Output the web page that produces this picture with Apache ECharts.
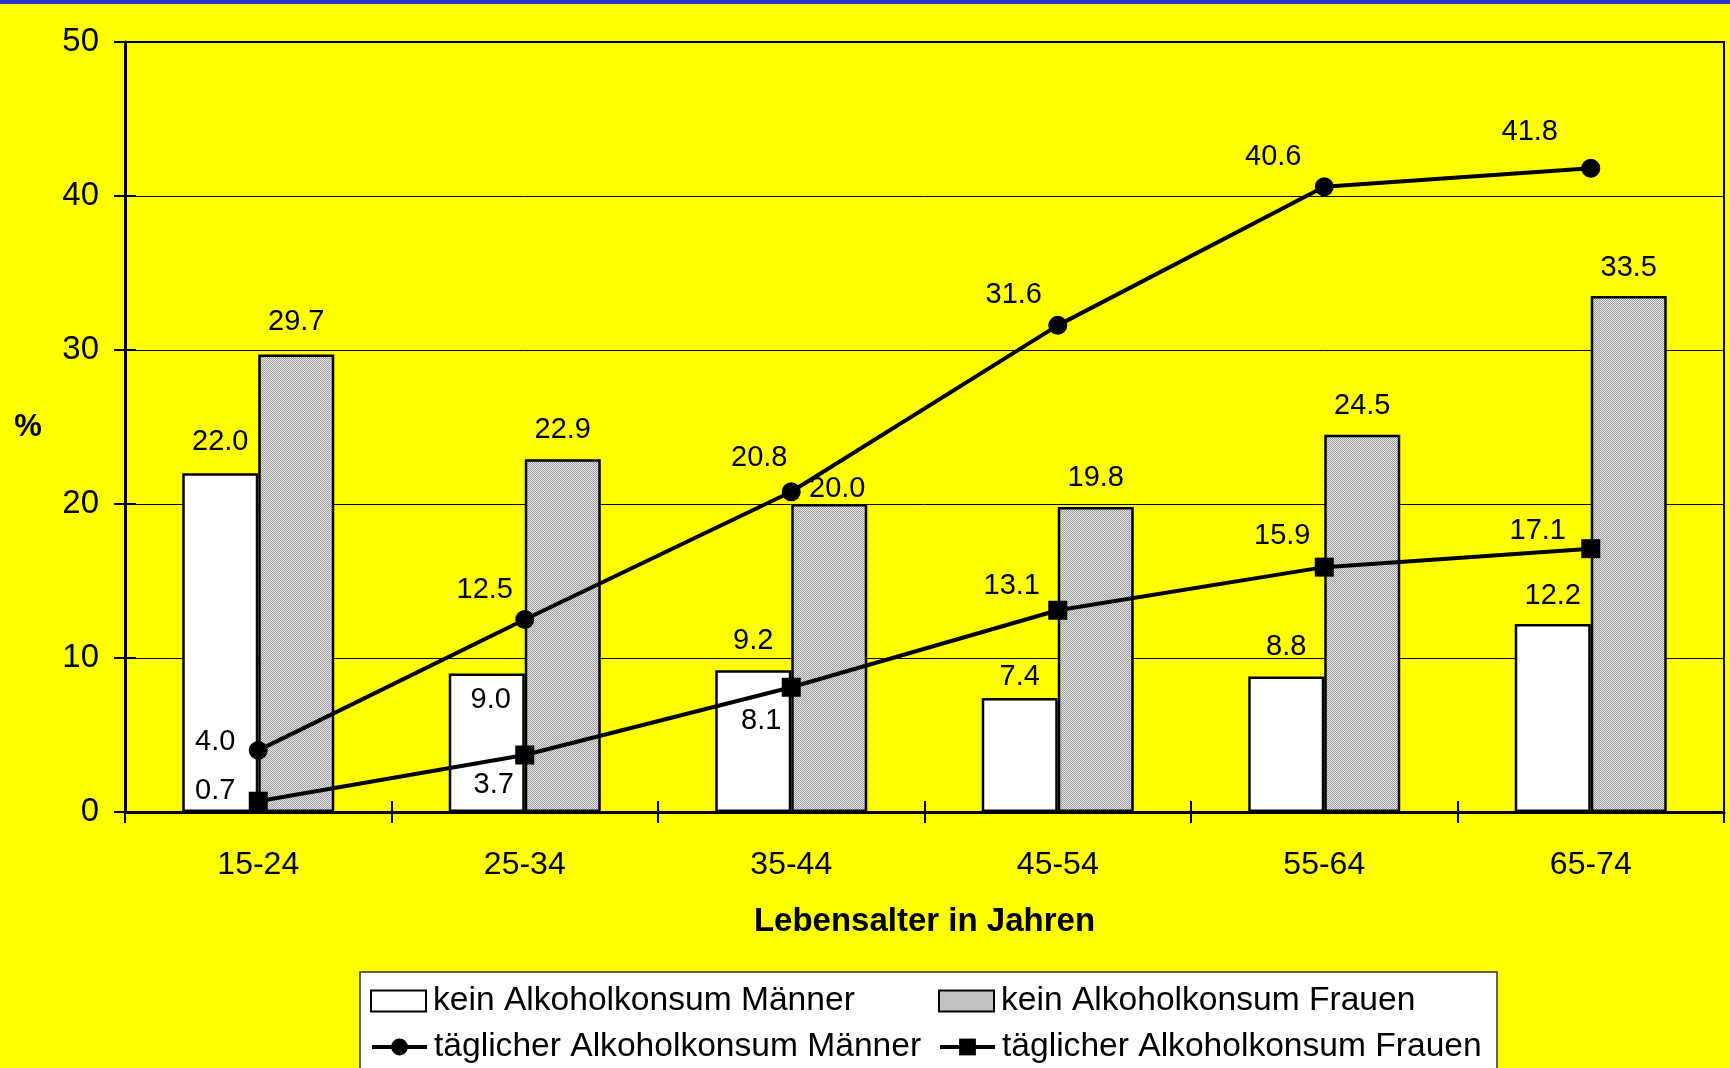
<!DOCTYPE html>
<html>
<head>
<meta charset="utf-8">
<script src="https://cdn.jsdelivr.net/npm/echarts@6/dist/echarts.min.js"></script>
<style>
  html, body { margin: 0; padding: 0; background: #ffff00; }
  #chart { width: 1730px; height: 1068px; }
</style>
</head>
<body>
<div id="chart"></div>
<script>
// ---- data ----
const categories = ['15-24', '25-34', '35-44', '45-54', '55-64', '65-74'];
const noAlcoholMen = [22.0, 9.0, 9.2, 7.4, 8.8, 12.2];
const noAlcoholWomen = [29.7, 22.9, 20.0, 19.8, 24.5, 33.5];
const dailyAlcoholMen = [4.0, 12.5, 20.8, 31.6, 40.6, 41.8];
const dailyAlcoholWomen = [0.7, 3.7, 8.1, 13.1, 15.9, 17.1];
const yTicks = [0, 10, 20, 30, 40, 50];
const seriesNames = [
  'kein Alkoholkonsum Männer',
  'kein Alkoholkonsum Frauen',
  'täglicher Alkoholkonsum Männer',
  'täglicher Alkoholkonsum Frauen'
];

// ---- label placement (style only) ----
const barLabelOffMen = [[0, -31], [4, 27], [0, -29], [0, -21], [0, -29], [0, -28]];
const barLabelOffWomen = [[0, -33], [0, -29], [8, -15], [0, -29], [0, -29], [0, -28]];
const lineLabelOffMen = [[-43, -8], [-40, -30], [-32, -34], [-44, -30], [-51, -30], [-61, -36]];
const lineLabelOffWomen = [[-43, -10], [-31, 30], [-30, 34], [-46, -24], [-42, -31], [-53, -18]];

const FONT = "'Liberation Sans', Arial, sans-serif";

// gray dotted pattern
const pat = document.createElement('canvas');
pat.width = 2; pat.height = 2;
const pctx = pat.getContext('2d');
pctx.fillStyle = '#e6e6e6'; pctx.fillRect(0, 0, 2, 2);
pctx.fillStyle = '#9c9c9c'; pctx.fillRect(0, 0, 1, 1); pctx.fillRect(1, 1, 1, 1);
const grayFill = { image: pat, repeat: 'repeat' };

const fmt = v => v.toFixed(1);
const labelBase = { show: true, color: '#000', fontFamily: FONT, fontSize: 29 };

function barData(values, offs) {
  return values.map((v, i) => ({
    value: v,
    label: Object.assign({}, labelBase, {
      position: 'top', distance: 0, verticalAlign: 'middle', align: 'center',
      offset: offs[i], formatter: () => fmt(v)
    })
  }));
}
function lineData(values, offs) {
  return values.map((v, i) => ({
    value: v,
    label: Object.assign({}, labelBase, {
      position: 'inside', verticalAlign: 'middle', align: 'center',
      offset: offs[i], formatter: () => fmt(v)
    })
  }));
}

const chart = echarts.init(document.getElementById('chart'), null, { renderer: 'canvas' });

function legendAt(name, left, top, isBar) {
  const l = {
    data: [name], left: left, top: top, padding: 0,
    itemWidth: 55, itemHeight: 21, itemGap: 0, z: 10,
    selectedMode: false,
    textStyle: { fontFamily: FONT, fontSize: 33.6, color: '#000', padding: [0, 0, 0, 2] }
  };
  if (isBar) {
    l.icon = 'rect';
  } else {
    l.lineStyle = { width: 4, color: '#000' };
  }
  return l;
}

const option = {
  backgroundColor: '#ffff00',
  animation: false,
  textStyle: { fontFamily: FONT },
  graphic: [
    { type: 'rect', z: 0, shape: { x: 0, y: 0, width: 1730, height: 4 }, style: { fill: '#3333cc' } },
    { type: 'rect', z: 1, shape: { x: 360, y: 972, width: 1137, height: 130 },
      style: { fill: '#ffffff', stroke: '#333333', lineWidth: 1.5 } }
  ],
  grid: { left: 125, right: 6, top: 42, bottom: 256, show: true, borderColor: '#000', borderWidth: 2, backgroundColor: 'transparent' },
  legend: [
    legendAt(seriesNames[0], 370, 984, true),
    legendAt(seriesNames[1], 938, 984, true),
    legendAt(seriesNames[2], 370, 1030, false),
    legendAt(seriesNames[3], 938, 1030, false)
  ],
  xAxis: [
    {
      type: 'category', data: categories, boundaryGap: true,
      name: 'Lebensalter in Jahren', nameLocation: 'middle', nameGap: 93,
      nameTextStyle: { fontFamily: FONT, fontSize: 33, fontWeight: 'bold', color: '#000' },
      axisLine: { lineStyle: { color: '#000', width: 3 } },
      axisTick: { show: true, length: 11, lineStyle: { color: '#000', width: 2 } },
      axisLabel: { fontFamily: FONT, fontSize: 32, color: '#000', margin: 37 },
      splitLine: { show: false }
    },
    {
      type: 'category', data: categories, boundaryGap: true, position: 'bottom',
      axisLine: { show: false },
      axisTick: { show: true, inside: true, length: 11, lineStyle: { color: '#000', width: 2 } },
      axisLabel: { show: false },
      splitLine: { show: false }
    }
  ],
  yAxis: [
    {
      type: 'value', min: 0, max: 50, interval: 10,
      name: '%', nameLocation: 'middle', nameRotate: 0, nameGap: 97,
      nameTextStyle: { fontFamily: FONT, fontSize: 31, fontWeight: 'bold', color: '#000', align: 'center', verticalAlign: 'middle' },
      axisLine: { show: true, lineStyle: { color: '#000', width: 3 } },
      axisTick: { show: true, length: 11, lineStyle: { color: '#000', width: 2 } },
      axisLabel: { fontFamily: FONT, fontSize: 33, color: '#000', margin: 26,
                   formatter: v => (yTicks.indexOf(v) >= 0 ? String(v) : '') },
      splitLine: { show: true, lineStyle: { color: '#000', width: 1 } }
    },
    {
      type: 'value', min: 0, max: 50, interval: 10, position: 'left',
      axisLine: { show: false },
      axisTick: { show: true, inside: true, length: 11, lineStyle: { color: '#000', width: 2 } },
      axisLabel: { show: false },
      splitLine: { show: false }
    }
  ],
  series: [
    {
      name: seriesNames[0], type: 'bar', barWidth: 76, barGap: '0%', z: 2,
      itemStyle: { color: '#ffffff', borderColor: '#000', borderWidth: 2.5 },
      data: barData(noAlcoholMen, barLabelOffMen)
    },
    {
      name: seriesNames[1], type: 'bar', barWidth: 76, barGap: '0%', z: 2,
      itemStyle: { color: grayFill, borderColor: '#000', borderWidth: 2.5 },
      data: barData(noAlcoholWomen, barLabelOffWomen)
    },
    {
      name: seriesNames[2], type: 'line', z: 5,
      symbol: 'circle', symbolSize: 19,
      lineStyle: { color: '#000', width: 4 },
      itemStyle: { color: '#000' },
      data: lineData(dailyAlcoholMen, lineLabelOffMen)
    },
    {
      name: seriesNames[3], type: 'line', z: 5,
      symbol: 'rect', symbolSize: 19,
      lineStyle: { color: '#000', width: 4 },
      itemStyle: { color: '#000' },
      data: lineData(dailyAlcoholWomen, lineLabelOffWomen)
    }
  ]
};
chart.setOption(option);
</script>
</body>
</html>
